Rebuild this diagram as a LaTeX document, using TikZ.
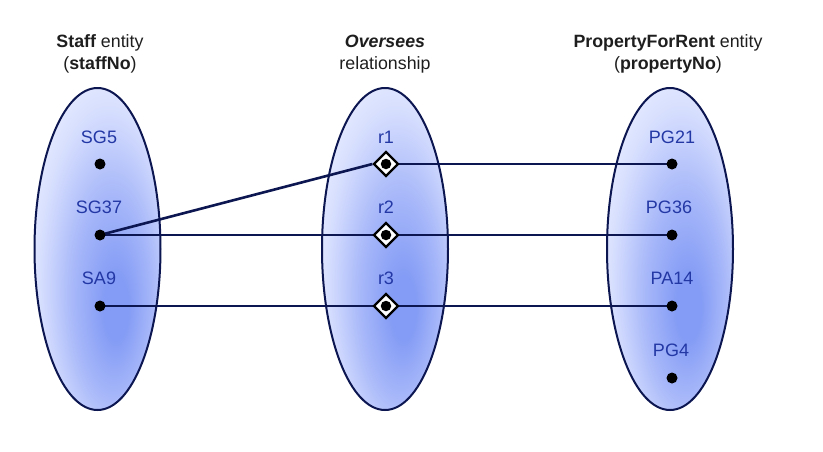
\documentclass[tikz,border=0pt]{standalone}
\usepackage{fontspec}
\setmainfont{Liberation Sans}
\usetikzlibrary{shapes.geometric}
\definecolor{navy}{RGB}{12,22,80}
\definecolor{lbl}{RGB}{35,55,165}
\definecolor{hdr}{RGB}{30,30,30}
\definecolor{ecol1}{RGB}{132,156,245}
\definecolor{ecol2}{RGB}{168,184,249}
\definecolor{ecol3}{RGB}{214,222,254}
\definecolor{ecol4}{RGB}{242,245,255}
\pgfdeclareradialshading{ellshade}{\pgfpoint{8bp}{-10bp}}{color(0bp)=(ecol1); color(5bp)=(ecol1); color(16bp)=(ecol2); color(27bp)=(ecol3); color(38bp)=(ecol4); color(60bp)=(ecol4)}
\pgfdeclarelayer{bg}
\pgfdeclarelayer{mid}
\pgfsetlayers{bg,mid,main}
\tikzset{
  setell/.style={ellipse, draw=navy, line width=2pt, shading=ellshade, minimum width=126pt, minimum height=322pt, inner sep=0pt},
  lab/.style={text=lbl, font=\fontsize{18}{21}\selectfont},
  hd/.style={text=hdr, font=\fontsize{17.8}{22}\selectfont, align=center},
  dot/.style={circle, fill=black, minimum size=11pt, inner sep=0pt},
  rel/.style={diamond, draw=black, fill=white, line width=2.2pt, minimum size=25pt, inner sep=0pt},
  reldot/.style={circle, fill=black, minimum size=10.5pt, inner sep=0pt},
  conn/.style={draw=navy, line width=2.6pt}
}
\begin{document}
\begin{tikzpicture}[x=1pt,y=-1pt]
\useasboundingbox (0,0) rectangle (823,451);
% headers
\node[hd] (h1) at (100,54) {\textbf{Staff} entity\\(\textbf{staffNo})};
\node[hd] (h2) at (385,54) {\textbf{\textit{Oversees}}\\relationship};
\node[hd] (h3) at (668,54) {\textbf{PropertyForRent} entity\\(\textbf{propertyNo})};
% sets
\begin{pgfonlayer}{bg}
\node[setell] (e1) at (97.5,249) {};
\node[setell] (e2) at (385,249) {};
\node[setell] (e3) at (670,249) {};
\end{pgfonlayer}
% labels
\node[lab] (l1) at (99,137) {SG5};
\node[lab] (l2) at (99,207) {SG37};
\node[lab] (l3) at (99,278) {SA9};
\node[lab] (m1) at (386,137) {r1};
\node[lab] (m2) at (386,207) {r2};
\node[lab] (m3) at (386,278) {r3};
\node[lab] (p1) at (672,137) {PG21};
\node[lab] (p2) at (669,207) {PG36};
\node[lab] (p3) at (672,278) {PA14};
\node[lab] (p4) at (671,350) {PG4};
% points
\node[dot] (s1) at (100,164) {};
\node[dot] (s2) at (100,235) {};
\node[dot] (s3) at (100,306) {};
\node[rel] (r1) at (386,164) {};
\node[rel] (r2) at (386,235) {};
\node[rel] (r3) at (386,306) {};
\node[reldot] (rd1) at (r1) {};
\node[reldot] (rd2) at (r2) {};
\node[reldot] (rd3) at (r3) {};
\node[dot] (q1) at (672,164) {};
\node[dot] (q2) at (672,235) {};
\node[dot] (q3) at (672,306) {};
\node[dot] (q4) at (672,378) {};
% connectors
\begin{pgfonlayer}{mid}
\path[conn] (s2.center) -- (r1.west);
\path[conn] (r1.center) -- (q1.center);
\path[conn] (s2.center) -- (r2.center) -- (q2.center);
\path[conn] (s3.center) -- (r3.center) -- (q3.center);
\end{pgfonlayer}
\end{tikzpicture}
\end{document}
